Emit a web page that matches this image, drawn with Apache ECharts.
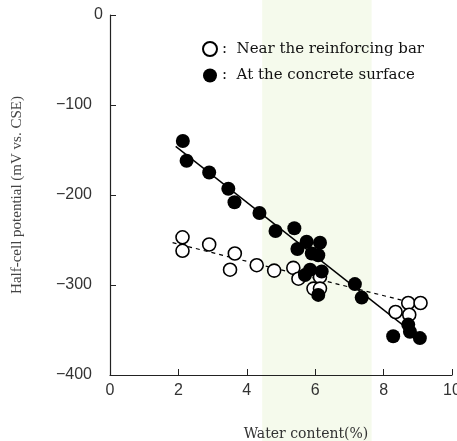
<!DOCTYPE html>
<html>
<head>
<meta charset="utf-8">
<script src="https://cdn.jsdelivr.net/npm/echarts@6/dist/echarts.min.js"></script>
<style>
  html, body { margin: 0; padding: 0; background: #fff; }
  #chart { width: 457px; height: 441px; }
</style>
</head>
<body>
<div id="chart"></div>
<script>
// data
const nearBar = [
  [2.12, -247], [2.12, -262], [2.90, -255], [3.65, -265], [3.51, -283],
  [4.29, -278], [4.80, -284], [5.36, -281], [5.51, -293], [6.14, -291],
  [5.95, -304], [6.14, -304], [8.35, -330], [8.72, -320], [9.08, -320],
  [8.75, -333]
];
const surface = [
  [2.13, -140], [2.24, -162], [2.90, -175], [3.46, -193], [3.64, -208],
  [4.37, -220], [4.84, -240], [5.39, -237], [5.48, -260], [5.75, -252],
  [6.14, -253], [5.90, -265], [6.09, -267], [5.85, -283], [6.19, -285],
  [5.70, -289], [6.09, -311], [7.16, -299], [7.36, -314], [8.28, -357],
  [8.72, -344], [8.77, -352], [9.06, -359]
];
const nearBarFit = [[1.83, -253], [8.65, -318]];
const surfaceFit = [[1.92, -146], [9.05, -359]];
const bandRange = [4.45, 7.65];
const xTicks = [0, 10, 2];
const yTicks = [-400, 0, 100];

const chart = echarts.init(document.getElementById('chart'));

const serif = '"Liberation Serif", "DejaVu Serif", serif';
const wideSerif = '"DejaVu Serif", serif';
const sans = '"Liberation Sans", Arial, sans-serif';

const option = {
  animation: false,
  grid: { left: 110, top: 15, right: 5, bottom: 66, outerBoundsMode: 'none' },
  legend: {
    orient: 'vertical',
    left: 197,
    top: 36,
    itemGap: 11,
    itemWidth: 14,
    itemHeight: 14,
    data: ['Near the reinforcing bar', 'At the concrete surface'],
    formatter: name => ':  ' + name,
    textStyle: { fontFamily: wideSerif, fontSize: 15, color: '#111' }
  },
  xAxis: {
    type: 'value',
    min: xTicks[0], max: xTicks[1], interval: xTicks[2],
    name: 'Water content(%)',
    nameLocation: 'middle',
    nameGap: 52,
    nameTextStyle: { fontFamily: wideSerif, fontSize: 14, color: '#333', padding: [0, 0, 0, 50] },
    axisLine: { onZero: false, lineStyle: { color: '#222', width: 1.2 } },
    axisTick: { inside: true, length: 6, lineStyle: { color: '#222' } },
    axisLabel: { fontFamily: sans, fontSize: 16, color: '#333', margin: 8 },
    splitLine: { show: false }
  },
  yAxis: {
    type: 'value',
    min: yTicks[0], max: yTicks[1], interval: yTicks[2],
    name: 'Half-cell potential (mV vs. CSE)',
    nameLocation: 'middle',
    nameGap: 85,
    nameTextStyle: { fontFamily: serif, fontSize: 15, color: '#444' },
    axisLine: { show: true, onZero: false, lineStyle: { color: '#222', width: 1.2 } },
    axisTick: { show: true, inside: true, length: 6, lineStyle: { color: '#222' } },
    axisLabel: {
      fontFamily: sans, fontSize: 16, color: '#333', margin: 18,
      formatter: v => v === 0 ? '{z|0}' : String(v).replace('-', '\u2212'),
      rich: { z: { fontFamily: sans, fontSize: 16, color: '#333', padding: [0, -11, 0, 0] } }
    },
    splitLine: { show: false }
  },
  series: [
    {
      name: 'Near the reinforcing bar',
      type: 'scatter',
      symbol: 'circle',
      symbolSize: 13,
      itemStyle: { color: '#fff', borderColor: '#000', borderWidth: 1.6, opacity: 1 },
      data: nearBar,
      z: 3
    },
    {
      name: 'At the concrete surface',
      type: 'scatter',
      symbol: 'circle',
      symbolSize: 14,
      itemStyle: { color: '#000', opacity: 1 },
      data: surface,
      z: 4
    },
    {
      name: 'fit-near',
      type: 'line',
      data: nearBarFit,
      showSymbol: false,
      lineStyle: { color: '#000', width: 1.2, type: [4, 4] },
      z: 2
    },
    {
      name: 'fit-surface',
      type: 'line',
      data: surfaceFit,
      showSymbol: false,
      lineStyle: { color: '#000', width: 1.4 },
      z: 2
    }
  ]
};

chart.setOption(option);

// faint green band behind the plot, full height of the figure
const x0 = chart.convertToPixel({ xAxisIndex: 0 }, bandRange[0]);
const x1 = chart.convertToPixel({ xAxisIndex: 0 }, bandRange[1]);
chart.setOption({
  graphic: [{
    type: 'rect',
    z: -10,
    silent: true,
    shape: { x: x0, y: 0, width: x1 - x0, height: 441 },
    style: { fill: '#f5faec' }
  }]
});
</script>
</body>
</html>
